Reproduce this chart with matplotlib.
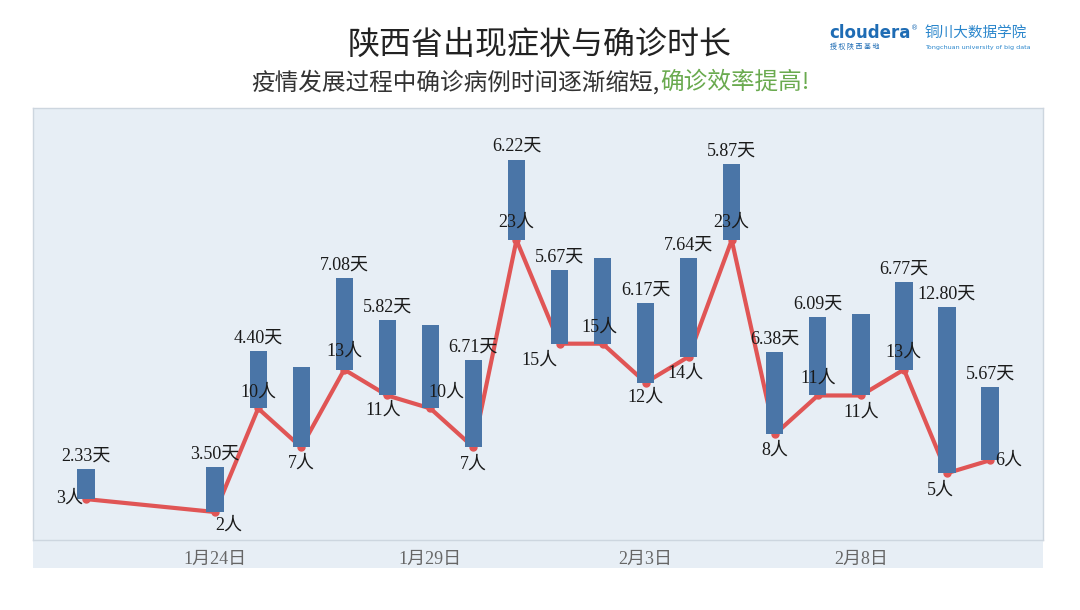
import matplotlib
matplotlib.use("Agg")
import matplotlib.pyplot as plt
import matplotlib.dates as mdates
from matplotlib.patches import Rectangle
import pandas as pd

# data
dates = ["2020-01-21", "2020-01-24", "2020-01-25", "2020-01-26", "2020-01-27",
         "2020-01-28", "2020-01-29", "2020-01-30", "2020-01-31", "2020-02-01",
         "2020-02-02", "2020-02-03", "2020-02-04", "2020-02-05", "2020-02-06",
         "2020-02-07", "2020-02-08", "2020-02-09", "2020-02-10", "2020-02-11"]
cases = [3, 2, 10, 7, 13, 11, 10, 7, 23, 15, 15, 12, 14, 23, 8, 11, 11, 13, 5, 6]
days = [2.33, 3.50, 4.40, 6.18, 7.08, 5.82, 6.44, 6.71, 6.22, 5.67,
        6.64, 6.17, 7.64, 5.87, 6.38, 6.09, 6.31, 6.77, 12.80, 5.67]
show_days = [True, True, True, False, True, True, False, True, True, True,
             False, True, True, True, True, True, False, True, True, True]
tick_dates = ["2020-01-24", "2020-01-29", "2020-02-03", "2020-02-08"]
tick_labels = ["1月24日", "1月29日", "2月3日", "2月8日"]

# label offsets for the case counts (pixels), and alignment
case_offsets = [(-3, 1, "right"), (14, -13, "center"), (0, 16, "center"), (0, -16, "center"),
                (0, 18, "center"), (-4, -15, "center"), (16, 16, "center"), (0, -17, "center"),
                (0, 18, "center"), (-20, -16, "center"), (-3, 17, "center"), (0, -15, "center"),
                (-3, -16, "center"), (0, 18, "center"), (0, -16, "center"), (0, 17, "center"),
                (0, -17, "center"), (0, 17, "center"), (-7, -17, "center"), (5, 0, "left")]

SERIF = ["Liberation Serif", "Noto Sans CJK SC", "DejaVu Sans"]
CJK = ["Noto Sans CJK SC", "DejaVu Sans"]
bg = "#e7eef5"
bar_color = "#4a75a7"
line_color = "#e05555"

x = mdates.date2num(pd.to_datetime(dates))
tx = mdates.date2num(pd.to_datetime(tick_dates))

fig = plt.figure(figsize=(10.8, 6.1), dpi=100)
fig.patches.append(Rectangle((33 / 1080, 42 / 610), 1010 / 1080, 28 / 610,
                             transform=fig.transFigure, facecolor=bg, edgecolor="none", zorder=-5))
ax = fig.add_axes([33 / 1080, 70 / 610, 1010 / 1080, 432 / 610])
ax.set_facecolor(bg)

ax.plot(x, cases, color=line_color, lw=3, marker="o", ms=5, zorder=2,
        solid_capstyle="round", solid_joinstyle="round")
ax.bar(x, days, bottom=cases, width=0.4, color=bar_color, zorder=3)

for xi, c, off in zip(x, cases, case_offsets):
    ax.annotate(f"{c}人", (xi, c), xytext=(off[0], off[1]), textcoords="offset pixels",
                ha=off[2], va="center", fontsize=13, family=SERIF, color="#1a1a1a", zorder=5)

for xi, c, d, s in zip(x, cases, days, show_days):
    if s:
        ax.annotate(f"{d:.2f}天", (xi, c + d), xytext=(0, 13), textcoords="offset pixels",
                    ha="center", va="center", fontsize=13, family=SERIF, color="#1a1a1a", zorder=5)

ax.set_xlim(x[0] - 1.23, x[-1] + 1.23)
ax.set_ylim(-0.16, 33.2)
ax.set_yticks([])
ax.set_xticks(tx)
ax.set_xticklabels(tick_labels, family=SERIF, fontsize=13, color="#666666")
ax.tick_params(axis="x", length=0, pad=8)
for sp in ax.spines.values():
    sp.set_color("#cdd6df")
    sp.set_linewidth(1)

# titles
fig.text(0.5, 1 - 45 / 610, "陕西省出现症状与确诊时长", ha="center", va="center",
         fontsize=23, family=CJK, color="#222222")
fig.text(660 / 1080, 1 - 82 / 610, "疫情发展过程中确诊病例时间逐渐缩短,", ha="right", va="center",
         fontsize=17, family=CJK, color="#333333")
fig.text(660 / 1080, 1 - 82 / 610, "确诊效率提高!", ha="left", va="center",
         fontsize=17, family=CJK, color="#6aaa4f")

# logo text
fig.text(829 / 1080, 1 - 33 / 610, "cloudera", ha="left", va="center", fontsize=12,
         family=["DejaVu Sans"], weight="bold", color="#1e6cb4")
fig.text(911 / 1080, 1 - 28 / 610, "®", ha="left", va="center", fontsize=5, color="#1e6cb4")
fig.text(925 / 1080, 1 - 33 / 610, "铜川大数据学院", ha="left", va="center", fontsize=10.5,
         family=CJK, color="#2a86cc")
fig.text(830 / 1080, 1 - 47 / 610, "授 权 陕 西 基 地", ha="left", va="center", fontsize=5,
         family=CJK, color="#1e6cb4")
fig.text(925 / 1080, 1 - 47 / 610, "Tongchuan university of big data", ha="left", va="center",
         fontsize=4.6, family=["DejaVu Sans"], color="#2a86cc")

fig.savefig("out.png", dpi=100)
